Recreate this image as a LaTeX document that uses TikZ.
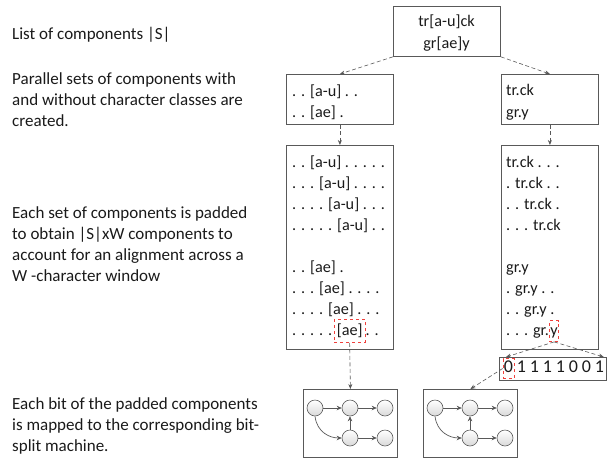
\documentclass[tikz,border=0pt]{standalone}
\usepackage{fontspec}
\setmainfont{Carlito}
\usetikzlibrary{positioning,arrows.meta}
\definecolor{figLine}{HTML}{595959}
\definecolor{figRed}{HTML}{F0403C}
\definecolor{figText}{HTML}{1A1A1A}

\begin{document}
\begin{tikzpicture}[x=1pt, y=-1pt,
  box/.style={draw=figLine, line width=0.8pt, anchor=north west, inner sep=0pt},
  cell/.style={anchor=west, inner sep=0pt, text height=12pt, text depth=4pt,
    font=\fontsize{16.2}{20}\selectfont, text=figText},
  note/.style={anchor=base west, align=left, inner sep=0pt,
    font=\fontsize{17}{20.7}\selectfont, text=figText},
  hilite/.style={cell, draw=figRed, dashed, line width=0.8pt, inner xsep=2.5pt,
    inner ysep=3.5pt},
  bit/.style={inner sep=0pt, text height=12pt, text depth=4pt,
    font=\fontsize{18}{18}\selectfont, text=figText},
  state/.style={circle, draw=figLine, line width=0.6pt, minimum size=16pt,
    inner sep=0pt, top color=white, bottom color=black!15},
  flow/.style={-{Stealth[length=5pt,width=4.5pt]}, line width=0.7pt, figLine},
  conn/.style={-{Stealth[length=5pt,width=4pt]}, line width=0.6pt, figLine,
    dash pattern=on 4pt off 2.5pt},
]
\useasboundingbox (0,0) rectangle (610,459);

% === Notes ===
\node[note] (note-list) at (12,39) {List of components |S|};
\node[note] (note-sets) at (12,126) {Parallel sets of components with\\
  and without character classes are\\created.};
\node[note] (note-pad) at (12,281) {Each set of components is padded\\
  to obtain |S|xW components to\\account for an alignment across a\\
  W -character window};
\node[note] (note-bit) at (12,451) {Each bit of the padded components\\
  is mapped to the corresponding bit-\\split machine.};

% === Component list ===
\node[box, minimum width=107pt, minimum height=50pt] (top) at (393,6) {};
\node[cell, anchor=center] at (446.5,22) {tr[a-u]ck};
\node[cell, anchor=center] at (446.5,44) {gr[ae]y};

% === Parallel sets ===
\node[box, minimum width=107pt, minimum height=50pt] (cls) at (286,74) {};
\node[box, minimum width=97pt, minimum height=50pt] (dot) at (501,74) {};
\node[cell] at (292,92) {. . [a-u] . .};
\node[cell] at (292,113) {. . [ae] .};
\node[cell] at (506,91) {tr.ck};
\node[cell] at (506,113) {gr.y};
\draw[conn] (top.south west) -- (cls.north);
\draw[conn] (top.south east) -- (dot.north);

% === Padded sets ===
\node[box, minimum width=107pt, minimum height=204pt] (cls-pad) at (286,145) {};
\node[box, minimum width=97pt, minimum height=204pt] (dot-pad) at (501,145) {};
\foreach \t/\y in {. . [a-u] . . . . ./163, . . . [a-u] . . . ./184,
    . . . . [a-u] . . ./205, . . . . . [a-u] . ./226, . . [ae] ./268,
    . . . [ae] . . . ./289, . . . . [ae] . . ./310}
  \node[cell] at (292,\y) {\t};
\foreach \t/\y in {tr.ck . . ./163, . tr.ck . ./184, . . tr.ck ./205,
    . . . tr.ck/226, gr.y/268, . gr.y . ./289, . . gr.y ./310}
  \node[cell] at (506,\y) {\t};
\draw[conn] (cls.south) -- (cls-pad.north);
\draw[conn] (dot.south) -- (dot-pad.north);

% last rows, with the marked part
\node[cell] (ae-pre) at (292,331) {. . . . .};
\node[hilite, right=1.5pt of ae-pre] (hl-ae) {[ae]};
\node[cell, right=0pt of hl-ae] (ae-post) {. .};
\node[cell] (y-pre) at (506,331) {. . . gr.};
\node[hilite, inner xsep=1pt, inner ysep=2.5pt, right=0pt of y-pre] (hl-y) {y};

% === Bit vector ===
\node[box, minimum width=107pt, minimum height=23pt] (bits) at (499,357) {};
\foreach \b [count=\i] in {0,1,1,1,1,0,0,1}
  \node[bit] (bit\i) at ({508.5+(\i-1)*13},368.5) {\b};
\node[hilite, inner xsep=1pt, inner ysep=2pt, anchor=center, minimum width=11pt]
  (hl-0) at (bit1) {\phantom{0}};
\draw[conn] (hl-y.south) -- ([xshift=7pt]bits.north west);
\draw[conn] (hl-y.south) -- ([xshift=-3pt]bits.north east);

% === Bit-split machines ===
\foreach \gx/\gn in {303/gl, 423/gr} {
  \node[box, minimum width=94pt, minimum height=68pt] (\gn-box) at (\gx,389) {};
  \node[state] (\gn-a) at (\gx+12,408) {};
  \node[state] (\gn-b) at (\gx+47,408) {};
  \node[state] (\gn-c) at (\gx+82,408) {};
  \node[state] (\gn-d) at (\gx+47,438) {};
  \node[state] (\gn-e) at (\gx+82,438) {};
  \draw[flow] (\gn-a) -- (\gn-b);
  \draw[flow] (\gn-b) -- (\gn-c);
  \draw[flow] (\gn-d) -- (\gn-e);
  \draw[flow] (\gn-d) -- (\gn-b);
  \draw[flow] (\gn-a.south) .. controls +(2,16) and +(-12,0) .. (\gn-d.west);
}
\draw[conn] (hl-ae.south) -- (gl-box.north);
\draw[conn] (hl-0.west) -- (gr-box.north);

\end{tikzpicture}
\end{document}
